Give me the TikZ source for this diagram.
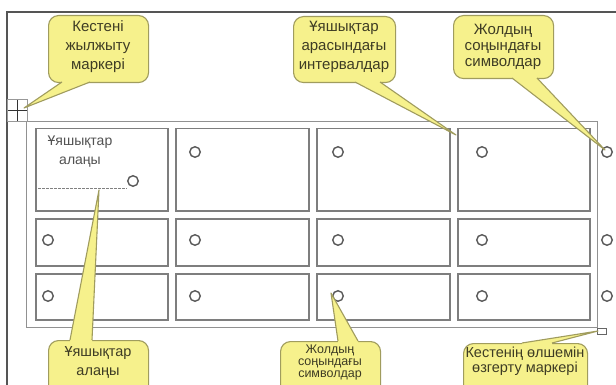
\documentclass[tikz,border=0pt]{standalone}
\usepackage{fontspec}
\setmainfont{Liberation Sans}
\usetikzlibrary{calc}
\definecolor{cfill}{HTML}{F6F18C}
\definecolor{cline}{HTML}{A09C5E}
\definecolor{ctext}{HTML}{3E3C24}
\definecolor{tline}{HTML}{7E7E7E}
\definecolor{frameline}{HTML}{555555}
\tikzset{
  callbox/.style={draw=cline, fill=cfill, line width=1.1pt, rounded corners=10pt, inner sep=0pt},
  calltext/.style={text=ctext, align=center, inner sep=0pt, font=\fontsize{15}{19}\selectfont},
  cellbox/.style={draw=tline, line width=1.5pt, inner sep=0pt, anchor=north west},
  endmark/.style={draw=black!65, line width=1.4pt, circle, minimum size=10.5pt, inner sep=0pt},
  celltext/.style={text=black!68, align=center, inner sep=0pt, font=\fontsize{14}{19}\selectfont}
}
\begin{document}
\begin{tikzpicture}[x=1pt,y=-1pt]
\useasboundingbox (0,0) rectangle (616,385);
\fill[white] (0,0) rectangle (616,385);
\clip (0,0) rectangle (616,385);
% page frame
\coordinate (fTL) at (7,12);
\draw[frameline, line width=1.6pt] (7,400) -- (fTL) -- (620,12);
% table outer border
\node[draw=tline!85, line width=1.2pt, inner sep=0pt, anchor=north west, minimum width=571pt, minimum height=206pt] (tab) at (26,121) {};
% cells
\foreach \c/\x/\w in {1/35/132,2/175/133,3/316/133,4/457/132}{
  \foreach \r/\y/\h in {1/128/82,2/218/47,3/273/46}{
    \node[cellbox, minimum width=\w pt, minimum height=\h pt] (cell\r\c) at (\x,\y) {};
  }
}
% end-of-cell markers
\foreach \r/\y in {2/240,3/296}{
  \foreach \c/\x in {1/48,2/195,3/338,4/482,5/607}{
    \node[endmark] (m\r\c) at (\x,\y) {};
  }
}
\foreach \c/\x in {2/195,3/338,4/482,5/607}{
  \node[endmark] (m1\c) at (\x,152) {};
}
\node[endmark] (m11) at (133,181) {};
% cell text and dashed line
\node[celltext] (ctx) at (80,152) {Ұяшықтар\\алаңы};
\coordinate (dA) at (38,188);
\coordinate (dB) at (127,188);
\draw[black!50, dash pattern=on 2.5pt off 1.5pt, line width=0.9pt] (dA) -- (dB);
% move marker
\node[draw=tline!80, line width=1.1pt, inner sep=0pt, anchor=north west, minimum width=20pt, minimum height=22pt] (mv) at (7,99) {};
\draw[black!80, line width=1.4pt] ($(mv.west)+(1,0)$) -- ($(mv.east)+(-1,0)$);
\draw[black!80, line width=1.4pt] ($(mv.north)+(0,1)$) -- ($(mv.south)+(0,-1)$);
% resize marker
\node[draw=black!60, fill=white, line width=1.1pt, inner sep=0pt, anchor=north west, minimum width=9pt, minimum height=6pt] (rs) at (597,328) {};

% ---------- callouts ----------
% 1
\node[callbox, minimum width=100pt, minimum height=67pt, anchor=north west] (b1) at (48,15) {};
\coordinate (p1a) at (62,82); \coordinate (p1b) at (90,82); \coordinate (p1t) at (24,108);
\fill[cfill] ($(p1a)+(0,-2)$) -- (p1a) -- (p1t) -- (p1b) -- ($(p1b)+(0,-2)$) -- cycle;
\draw[cline, line width=1.1pt, line join=round] (p1a) -- (p1t) -- (p1b);
\node[calltext] (t1) at (98,47) {Кестені\\жылжыту\\маркері};
% 2
\node[callbox, minimum width=102pt, minimum height=66pt, anchor=north west] (b2) at (293,16) {};
\coordinate (p2a) at (355,82); \coordinate (p2b) at (380,82); \coordinate (p2t) at (456,135);
\fill[cfill] ($(p2a)+(0,-2)$) -- (p2a) -- (p2t) -- (p2b) -- ($(p2b)+(0,-2)$) -- cycle;
\draw[cline, line width=1.1pt, line join=round] (p2a) -- (p2t) -- (p2b);
\node[calltext] (t2) at (344,47) {Ұяшықтар\\арасындағы\\интервалдар};
% 3
\node[callbox, minimum width=100pt, minimum height=63pt, anchor=north west] (b3) at (453,15) {};
\coordinate (p3a) at (512,78); \coordinate (p3b) at (537,78); \coordinate (p3t) at (605,150);
\fill[cfill] ($(p3a)+(0,-2)$) -- (p3a) -- (p3t) -- (p3b) -- ($(p3b)+(0,-2)$) -- cycle;
\draw[cline, line width=1.1pt, line join=round] (p3a) -- (p3t) -- (p3b);
\node[calltext, font=\fontsize{15}{16}\selectfont] (t3) at (503,47) {Жолдың\\соңындағы\\символдар};
% 4
\node[callbox, minimum width=100pt, minimum height=60pt, anchor=north west] (b4) at (48,340) {};
\coordinate (p4a) at (70,340); \coordinate (p4b) at (92,340); \coordinate (p4t) at (99,190);
\fill[cfill] ($(p4a)+(0,2)$) -- (p4a) -- (p4t) -- (p4b) -- ($(p4b)+(0,2)$) -- cycle;
\draw[cline, line width=1.1pt, line join=round] (p4a) -- (p4t) -- (p4b);
\node[calltext, font=\fontsize{14.5}{19}\selectfont] (t4) at (98,362) {Ұяшықтар\\алаңы};
% 5
\node[callbox, minimum width=100pt, minimum height=60pt, anchor=north west] (b5) at (280,341) {};
\coordinate (p5a) at (338,341); \coordinate (p5b) at (358,341); \coordinate (p5t) at (331,293);
\fill[cfill] ($(p5a)+(0,2)$) -- (p5a) -- (p5t) -- (p5b) -- ($(p5b)+(0,2)$) -- cycle;
\draw[cline, line width=1.1pt, line join=round] (p5a) -- (p5t) -- (p5b);
\node[calltext, font=\fontsize{12.5}{12}\selectfont] (t5) at (330,362) {Жолдың\\соңындағы\\символдар};
% 6
\node[callbox, minimum width=124pt, minimum height=60pt, anchor=north west] (b6) at (463,343) {};
\coordinate (p6a) at (522,343); \coordinate (p6b) at (552,343); \coordinate (p6t) at (598,331);
\fill[cfill] ($(p6a)+(0,2)$) -- (p6a) -- (p6t) -- (p6b) -- ($(p6b)+(0,2)$) -- cycle;
\draw[cline, line width=1.1pt, line join=round] (p6a) -- (p6t) -- (p6b);
\node[calltext, font=\fontsize{14.5}{15}\selectfont] (t6) at (525,361) {Кестенің өлшемін\\өзгерту маркері};
\end{tikzpicture}
\end{document}
